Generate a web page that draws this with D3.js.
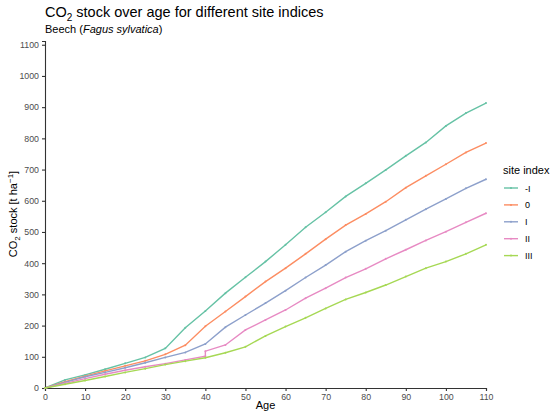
<!DOCTYPE html>
<html><head><meta charset="utf-8">
<script src="https://cdn.jsdelivr.net/npm/d3@7"></script>
<style>body{margin:0;background:#fff;font-family:"Liberation Sans",Arial,sans-serif;}</style>
</head><body><div id="chart"></div>
<script>
const seriesNames = ["-I", "0", "I", "II", "III"];
const colors = ["#66c2a5", "#fc8d62", "#8da0cb", "#e78ac3", "#a6d854"];
const ages = [0,5,10,15,20,25,30,35,40,45,50,55,60,65,70,75,80,85,90,95,100,105,110];
const valsMinusI = [0,26,42,60,79,98,127,193,247,304,355,405,459,515,563,614,656,699,744,787,840,881,913];
const vals0      = [0,20,38,55,71,87,108,137,198,245,293,341,384,430,477,522,558,597,642,680,717,755,785];
const valsI      = [0,18,36,50,65,81,98,114,141,195,234,272,312,354,394,437,472,504,539,573,606,640,669];
const agesII     = [0,5,10,15,20,25,30,35,40,40,45,50,55,60,65,70,75,80,85,90,95,100,105,110];
const valsII     = [0,15,30,44,57,68,78,90,102,118,138,186,218,250,288,320,354,382,414,443,473,501,531,560];
const valsIII    = [0,12,24,37,50,62,75,86,97,113,132,167,197,225,255,284,306,330,357,384,405,430,459];
const xTicks = [0,10,20,30,40,50,60,70,80,90,100,110];
const yTicks = [0,100,200,300,400,500,600,700,800,900,1000,1100];

const seriesAges = [ages, ages, ages, agesII, ages];
const seriesVals = [valsMinusI, vals0, valsI, valsII, valsIII];

const W = 550, H = 416;
const svg = d3.select("#chart").append("svg").attr("width", W).attr("height", H);
const x = d3.scaleLinear().domain([0,110]).range([45,486]);
const y = d3.scaleLinear().domain([0,1112]).range([388,41]);

// axes
const xAxis = svg.append("g").attr("transform","translate(0,388)")
  .call(d3.axisBottom(x).tickValues(xTicks).tickFormat(d3.format("d")).tickSizeOuter(0).tickSize(3).tickPadding(3));
const yAxis = svg.append("g").attr("transform","translate(45,0)")
  .call(d3.axisLeft(y).tickValues(yTicks).tickFormat(d3.format("d")).tickSizeOuter(0).tickSize(3).tickPadding(3));
[xAxis,yAxis].forEach(a=>{
  a.select(".domain").attr("stroke","#333").attr("stroke-width",1.1);
  a.selectAll(".tick line").attr("stroke","#333").attr("stroke-width",1.1);
  a.selectAll(".tick text").attr("fill","#4d4d4d").style("font-size","8.8px").style("font-family","'Liberation Sans',Arial,sans-serif");
});

// lines
const line = d3.line().x(d=>x(d[0])).y(d=>y(d[1]));
seriesNames.forEach((n,i)=>{
  const data = seriesAges[i].map((a,j)=>[a, seriesVals[i][j]]);
  svg.append("path").datum(data).attr("d",line).attr("fill","none")
    .attr("stroke",colors[i]).attr("stroke-width",1.4);
  svg.append("g").selectAll("circle").data(data).join("circle")
    .attr("cx",d=>x(d[0])).attr("cy",d=>y(d[1])).attr("r",1).attr("fill",colors[i]);
});

// titles
const t = svg.append("text").attr("x",45).attr("y",17).attr("fill","#000").style("font-size","14.5px");
t.append("tspan").text("CO");
t.append("tspan").text("2").style("font-size","10px").attr("dy",4);
t.append("tspan").text(" stock over age for different site indices").attr("dy",-4);
const st = svg.append("text").attr("x",45).attr("y",33).attr("fill","#000").style("font-size","11px");
st.append("tspan").text("Beech (");
st.append("tspan").text("Fagus sylvatica").style("font-style","italic");
st.append("tspan").text(")");

svg.append("text").attr("x",265.5).attr("y",409).attr("text-anchor","middle").style("font-size","11px").text("Age");
const yt = svg.append("text").attr("transform","translate(17,214) rotate(-90)").attr("text-anchor","middle").style("font-size","11px");
yt.append("tspan").text("CO");
yt.append("tspan").text("2").style("font-size","8px").attr("dy",3);
yt.append("tspan").text(" stock [t ha").attr("dy",-3);
yt.append("tspan").text("−1").style("font-size","8px").attr("dy",-4);
yt.append("tspan").text("]").attr("dy",4);

// legend
const lg = svg.append("g");
lg.append("text").attr("x",503).attr("y",174).style("font-size","11px").text("site index");
seriesNames.forEach((n,i)=>{
  const yy = 188 + i*16.9;
  lg.append("line").attr("x1",504).attr("x2",518).attr("y1",yy).attr("y2",yy).attr("stroke",colors[i]).attr("stroke-width",1.4);
  lg.append("circle").attr("cx",511).attr("cy",yy).attr("r",1).attr("fill",colors[i]);
  lg.append("text").attr("x",525).attr("y",yy+3.5).style("font-size","9px").attr("fill","#000").text(n);
});
</script></body></html>
